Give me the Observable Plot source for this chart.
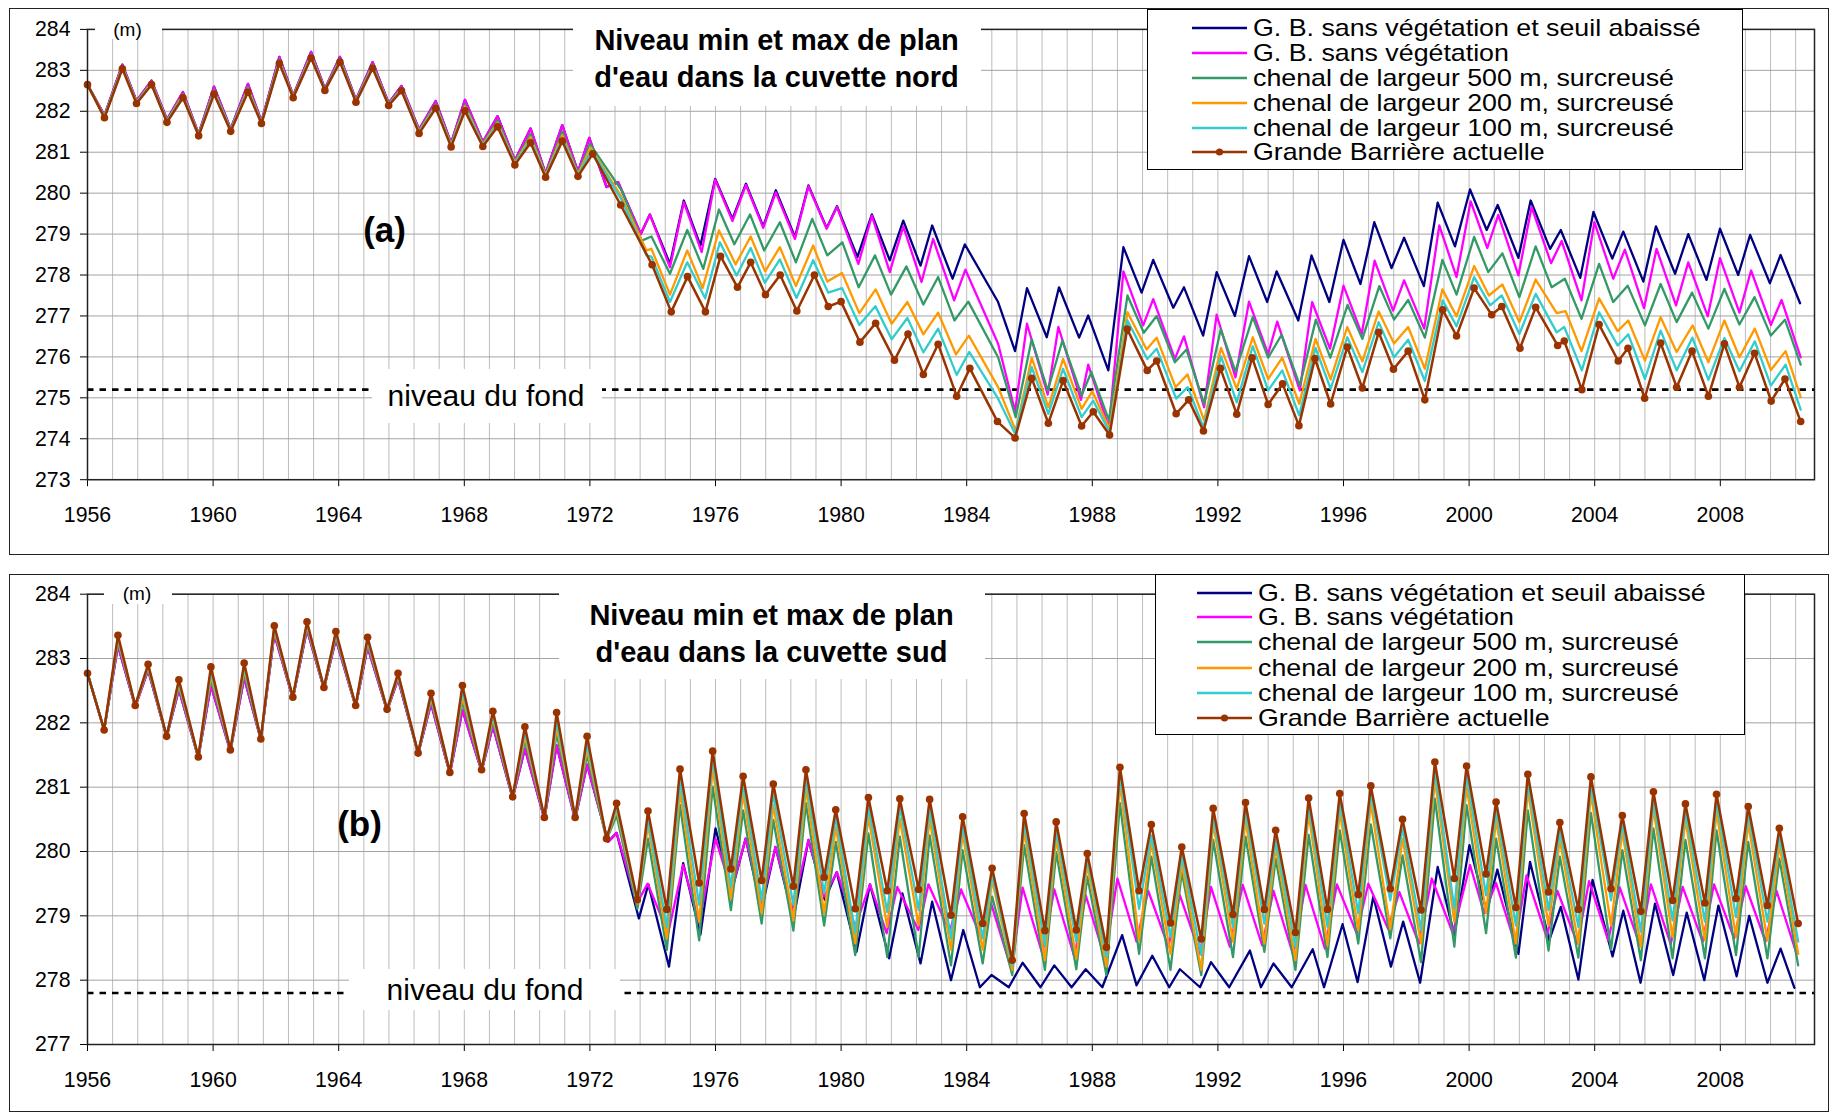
<!DOCTYPE html>
<html><head><meta charset="utf-8">
<script src="https://cdn.jsdelivr.net/npm/d3@7"></script>
<script src="https://cdn.jsdelivr.net/npm/@observablehq/plot@0.6"></script>
<style>
body{margin:0;background:#fff;font-family:"Liberation Sans",Arial,sans-serif;}
#page{position:relative;width:1838px;height:1113px;overflow:hidden;background:#fff;}
.txt{position:absolute;white-space:nowrap;line-height:1;color:#000;font-family:"Liberation Sans",Arial,sans-serif;}
svg text{font-family:"Liberation Sans",Arial,sans-serif;}
</style></head><body><div id="page"></div>
<script>
// ---------- libellés ----------
const nomsSeries = ["G. B. sans végétation et seuil abaissé", "G. B. sans végétation",
  "chenal de largeur 500 m, surcreusé", "chenal de largeur 200 m, surcreusé",
  "chenal de largeur 100 m, surcreusé", "Grande Barrière actuelle"];
const titreNord = ["Niveau min et max de plan", "d'eau dans la cuvette nord"];
const titreSud = ["Niveau min et max de plan", "d'eau dans la cuvette sud"];
const anneesTicks = [1956, 1960, 1964, 1968, 1972, 1976, 1980, 1984, 1988, 1992, 1996, 2000, 2004, 2008];
const niveauxNord = [273, 274, 275, 276, 277, 278, 279, 280, 281, 282, 283, 284];
const niveauxSud = [277, 278, 279, 280, 281, 282, 283, 284];
const fondNord = 275.2;
const fondSud = 277.8;

// ---------- cuvette nord (a) ----------
const tAvantNord = [1956.0, 1956.54, 1957.11, 1957.56, 1958.04, 1958.53, 1959.04, 1959.54, 1960.03, 1960.56, 1961.11, 1961.54, 1962.11, 1962.55, 1963.12, 1963.56, 1964.04, 1964.55, 1965.08, 1965.59, 1966.0, 1966.56, 1967.09, 1967.58, 1968.02, 1968.59, 1969.06, 1969.61, 1970.11, 1970.59, 1971.12, 1971.62];

const nordTempsBleu = tAvantNord.concat([1971.98, 1972.53, 1972.90, 1973.62, 1973.91, 1974.55, 1974.99, 1975.52, 1975.99, 1976.54, 1976.97, 1977.52, 1977.92, 1978.53, 1978.96, 1979.54, 1979.87, 1980.52, 1980.98, 1981.55, 1981.98, 1982.53, 1982.90, 1983.55, 1983.94, 1985.0, 1985.54, 1985.92, 1986.55, 1986.94, 1987.58, 1987.87, 1988.51, 1988.99, 1989.57, 1989.94, 1990.58, 1990.92, 1991.53, 1991.96, 1992.54, 1992.99, 1993.57, 1993.87, 1994.56, 1994.98, 1995.55, 1996.0, 1996.54, 1996.98, 1997.53, 1997.93, 1998.56, 1999.0, 1999.55, 2000.03, 2000.56, 2000.91, 2001.57, 2001.96, 2002.58, 2002.92, 2003.54, 2003.96, 2004.56, 2004.91, 2005.55, 2005.95, 2006.56, 2006.98, 2007.56, 2007.99, 2008.57, 2008.95, 2009.58, 2009.92, 2010.54]);
const nordBleu = [282.65, 281.90, 283.14, 282.25, 282.75, 281.80, 282.47, 281.45, 282.60, 281.57, 282.67, 281.75, 283.33, 282.38, 283.45, 282.55, 283.33, 282.28, 283.20, 282.20, 282.62, 281.55, 282.25, 281.22, 282.28, 281.25, 281.88, 280.80, 281.58, 280.48, 281.66, 280.52,
  281.35, 280.15, 280.27, 279.0, 279.48, 278.27, 279.82, 278.72, 280.35, 279.37, 280.23, 279.19, 280.07, 278.93, 280.19, 279.15, 279.68, 278.44, 279.48, 278.36, 279.33, 278.23, 279.21, 277.91, 278.75, 277.34, 276.14, 277.68, 276.48, 277.70, 276.47, 277.01, 275.67, 278.68, 277.57, 278.37, 277.20, 277.70, 276.52, 278.07, 277.0, 278.46, 277.34, 278.09, 276.89, 278.48, 277.34, 278.86, 277.78, 279.29, 278.17, 278.91, 277.73, 279.77, 278.70, 280.09, 279.10, 279.71, 278.42, 279.82, 278.64, 279.10, 277.93, 279.54, 278.40, 279.06, 277.84, 279.19, 278.03, 279.0, 277.88, 279.13, 278.0, 278.98, 277.80, 278.49, 277.31];

const nordTempsMagenta = tAvantNord.concat([1971.98, 1972.53, 1972.90, 1973.62, 1973.91, 1974.55, 1974.99, 1975.56, 1975.99, 1976.54, 1976.97, 1977.52, 1977.92, 1978.53, 1978.96, 1979.54, 1979.87, 1980.55, 1980.98, 1981.55, 1981.98, 1982.56, 1982.93, 1983.60, 1983.96, 1985.0, 1985.54, 1985.92, 1986.58, 1986.92, 1987.64, 1987.87, 1988.53, 1988.99, 1989.62, 1989.94, 1990.63, 1990.92, 1991.56, 1991.96, 1992.56, 1992.99, 1993.60, 1993.89, 1994.61, 1995.0, 1995.57, 1996.0, 1996.58, 1996.99, 1997.58, 1997.93, 1998.57, 1999.05, 1999.60, 2000.05, 2000.58, 2000.93, 2001.57, 2001.99, 2002.61, 2002.95, 2003.58, 2003.99, 2004.59, 2004.96, 2005.57, 2005.97, 2006.59, 2006.98, 2007.60, 2007.99, 2008.61, 2008.98, 2009.61, 2009.95, 2010.56]);
const nordMagenta = [282.65, 281.90, 283.14, 282.25, 282.75, 281.80, 282.47, 281.45, 282.60, 281.57, 282.67, 281.75, 283.33, 282.38, 283.45, 282.55, 283.33, 282.28, 283.20, 282.20, 282.62, 281.55, 282.25, 281.22, 282.28, 281.25, 281.88, 280.80, 281.58, 280.48, 281.66, 280.52,
  281.35, 280.15, 280.27, 279.0, 279.48, 278.19, 279.78, 278.56, 280.33, 279.32, 280.20, 279.15, 280.02, 278.88, 280.17, 279.13, 279.66, 278.27, 279.45, 278.07, 279.19, 277.83, 278.88, 277.38, 278.13, 276.32, 274.67, 276.81, 275.08, 276.73, 274.95, 275.81, 274.27, 278.09, 276.77, 277.41, 275.95, 276.50, 274.77, 277.03, 275.50, 277.35, 276.07, 276.86, 275.18, 277.34, 276.20, 277.74, 276.56, 278.35, 277.13, 277.87, 276.69, 279.21, 277.95, 279.80, 278.66, 279.47, 277.99, 279.66, 278.29, 278.83, 277.38, 279.29, 277.91, 278.62, 277.19, 278.64, 277.26, 278.31, 276.99, 278.41, 277.08, 278.11, 276.78, 277.39, 275.99];

const nordTempsVert = tAvantNord.concat([1972.0, 1973.01, 1973.65, 1973.96, 1974.55, 1975.10, 1975.61, 1976.11, 1976.60, 1977.10, 1977.55, 1978.05, 1978.56, 1979.08, 1979.56, 1980.04, 1980.56, 1981.08, 1981.59, 1982.08, 1982.62, 1983.09, 1983.61, 1984.05, 1985.0, 1985.56, 1986.07, 1986.58, 1987.05, 1987.66, 1987.97, 1988.53, 1989.12, 1989.64, 1990.05, 1990.63, 1991.0, 1991.56, 1992.09, 1992.56, 1993.11, 1993.60, 1994.03, 1994.61, 1995.12, 1995.58, 1996.13, 1996.60, 1997.14, 1997.61, 1998.06, 1998.59, 1999.15, 1999.60, 2000.16, 2000.61, 2001.06, 2001.60, 2002.12, 2002.63, 2003.05, 2003.58, 2004.14, 2004.59, 2005.05, 2005.60, 2006.10, 2006.61, 2007.10, 2007.62, 2008.13, 2008.61, 2009.09, 2009.61, 2010.06, 2010.56]);
const nordVert = [282.65, 281.88, 283.10, 282.23, 282.71, 281.77, 282.42, 281.43, 282.53, 281.55, 282.59, 281.73, 283.27, 282.36, 283.39, 282.53, 283.28, 282.26, 283.14, 282.18, 282.57, 281.52, 282.18, 281.19, 282.17, 281.21, 281.78, 280.76, 281.44, 280.45, 281.50, 280.47,
  281.2, 280.07, 278.84, 278.94, 278.03, 279.10, 278.15, 279.60, 278.75, 279.48, 278.60, 279.29, 278.31, 279.37, 278.48, 278.80, 277.70, 278.48, 277.52, 278.21, 277.28, 277.95, 276.89, 277.35, 275.99, 274.53, 276.43, 275.18, 276.40, 275.06, 275.63, 274.45, 277.50, 276.59, 277.0, 275.87, 276.18, 274.85, 276.67, 275.64, 276.97, 275.98, 276.54, 275.30, 276.91, 275.98, 277.27, 276.44, 277.73, 276.91, 277.39, 276.47, 278.37, 277.52, 278.93, 278.07, 278.53, 277.46, 278.70, 277.70, 277.91, 276.93, 278.27, 277.34, 277.74, 276.77, 277.78, 276.85, 277.57, 276.69, 277.66, 276.79, 277.46, 276.52, 276.91, 275.81];

const nordTempsOrange = tAvantNord.concat([1972.02, 1973.0, 1973.80, 1973.96, 1974.55, 1975.10, 1975.59, 1976.11, 1976.64, 1977.12, 1977.58, 1978.05, 1978.56, 1979.11, 1979.56, 1980.03, 1980.58, 1981.10, 1981.61, 1982.11, 1982.62, 1983.09, 1983.66, 1984.07, 1985.0, 1985.56, 1986.07, 1986.60, 1987.07, 1987.66, 1988.0, 1988.55, 1989.12, 1989.73, 1990.05, 1990.65, 1991.03, 1991.56, 1992.10, 1992.60, 1993.11, 1993.60, 1994.05, 1994.59, 1995.11, 1995.59, 1996.12, 1996.60, 1997.12, 1997.61, 1998.06, 1998.59, 1999.15, 1999.60, 2000.16, 2000.63, 2001.06, 2001.60, 2002.12, 2002.79, 2003.07, 2003.58, 2004.14, 2004.73, 2005.07, 2005.60, 2006.10, 2006.61, 2007.12, 2007.62, 2008.13, 2008.61, 2009.10, 2009.61, 2010.08, 2010.56]);
const nordOrange = [282.65, 281.87, 283.08, 282.22, 282.69, 281.76, 282.39, 281.42, 282.49, 281.54, 282.55, 281.72, 283.23, 282.35, 283.36, 282.52, 283.25, 282.24, 283.11, 282.16, 282.55, 281.50, 282.14, 281.17, 282.12, 281.19, 281.72, 280.74, 281.37, 280.43, 281.42, 280.45,
  281.12, 279.92, 278.60, 278.64, 277.52, 278.60, 277.68, 279.09, 278.26, 278.94, 278.09, 278.68, 277.73, 278.72, 277.84, 278.05, 277.07, 277.65, 276.81, 277.34, 276.55, 277.08, 276.06, 276.52, 275.26, 274.20, 275.98, 274.77, 275.95, 274.73, 275.16, 274.24, 277.09, 276.18, 276.47, 275.26, 275.57, 274.45, 276.22, 275.22, 276.48, 275.46, 275.98, 274.85, 276.44, 275.45, 276.73, 275.89, 277.11, 276.33, 276.73, 275.71, 277.65, 276.99, 278.22, 277.50, 277.77, 276.85, 277.89, 277.07, 277.12, 276.14, 277.43, 276.63, 276.89, 275.91, 276.97, 276.12, 276.77, 275.87, 276.89, 275.99, 276.69, 275.68, 276.14, 275.02];

const nordTempsCyan = tAvantNord.concat([1972.05, 1973.0, 1973.80, 1973.96, 1974.55, 1975.10, 1975.67, 1976.14, 1976.67, 1977.12, 1977.57, 1978.05, 1978.58, 1979.11, 1979.59, 1980.03, 1980.58, 1981.09, 1981.61, 1982.11, 1982.62, 1983.09, 1983.68, 1984.08, 1985.0, 1985.54, 1986.07, 1986.60, 1987.07, 1987.66, 1988.03, 1988.55, 1989.12, 1989.75, 1990.05, 1990.67, 1991.04, 1991.54, 1992.10, 1992.60, 1993.11, 1993.60, 1994.05, 1994.59, 1995.11, 1995.59, 1996.12, 1996.60, 1997.12, 1997.61, 1998.06, 1998.59, 1999.16, 1999.60, 2000.16, 2000.67, 2001.04, 2001.60, 2002.12, 2002.79, 2003.03, 2003.59, 2004.14, 2004.73, 2005.07, 2005.60, 2006.10, 2006.61, 2007.11, 2007.62, 2008.13, 2008.61, 2009.10, 2009.61, 2010.08, 2010.56]);
const nordCyan = [282.65, 281.86, 283.06, 282.21, 282.67, 281.75, 282.36, 281.41, 282.46, 281.53, 282.51, 281.71, 283.20, 282.34, 283.33, 282.52, 283.23, 282.23, 283.08, 282.15, 282.53, 281.48, 282.11, 281.15, 282.07, 281.17, 281.67, 280.72, 281.30, 280.41, 281.35, 280.43,
  281.05, 279.85, 278.48, 278.45, 277.34, 278.31, 277.43, 278.80, 277.99, 278.66, 277.81, 278.38, 277.44, 278.36, 277.57, 277.68, 276.78, 277.24, 276.43, 276.95, 276.11, 276.69, 275.56, 276.12, 274.98, 274.12, 275.75, 274.61, 275.71, 274.53, 274.93, 274.16, 276.89, 275.95, 276.20, 274.98, 275.26, 274.28, 276.01, 274.89, 276.26, 275.18, 275.67, 274.57, 276.22, 275.22, 276.48, 275.63, 276.85, 275.99, 276.42, 275.41, 277.38, 276.75, 277.95, 277.26, 277.50, 276.56, 277.54, 276.60, 276.73, 275.67, 277.09, 276.28, 276.55, 275.46, 276.64, 275.67, 276.47, 275.44, 276.46, 275.65, 276.38, 275.30, 275.81, 274.71];

const nordTempsBrun = tAvantNord.concat([1972.09, 1972.98, 1973.98, 1974.59, 1975.11, 1975.68, 1976.16, 1976.70, 1977.12, 1977.59, 1978.06, 1978.59, 1979.15, 1979.59, 1980.0, 1980.60, 1981.10, 1981.70, 1982.13, 1982.62, 1983.09, 1983.68, 1984.10, 1984.98, 1985.54, 1986.07, 1986.60, 1987.07, 1987.66, 1988.03, 1988.55, 1989.11, 1989.75, 1990.05, 1990.67, 1991.07, 1991.54, 1992.08, 1992.60, 1993.09, 1993.60, 1994.06, 1994.58, 1995.09, 1995.59, 1996.12, 1996.60, 1997.12, 1997.59, 1998.06, 1998.59, 1999.16, 1999.60, 2000.16, 2000.72, 2001.04, 2001.62, 2002.12, 2002.82, 2003.03, 2003.59, 2004.14, 2004.75, 2005.06, 2005.59, 2006.10, 2006.61, 2007.10, 2007.62, 2008.13, 2008.61, 2009.09, 2009.62, 2010.06, 2010.56]);
const nordBrun = [282.65, 281.84, 283.04, 282.19, 282.65, 281.73, 282.33, 281.40, 282.42, 281.51, 282.47, 281.70, 283.17, 282.33, 283.30, 282.51, 283.20, 282.22, 283.05, 282.14, 282.50, 281.46, 282.07, 281.13, 282.01, 281.14, 281.62, 280.69, 281.23, 280.39, 281.27, 280.41,
  280.96, 279.71, 278.25, 277.10, 277.96, 277.10, 278.46, 277.70, 278.31, 277.52, 278.00, 277.12, 278.00, 277.23, 277.35, 276.36, 276.82, 275.92, 276.56, 275.57, 276.31, 275.04, 275.72, 274.42, 274.02, 275.48, 274.38, 275.42, 274.31, 274.66, 274.09, 276.68, 275.67, 275.90, 274.61, 274.95, 274.19, 275.72, 274.60, 275.98, 274.84, 275.34, 274.32, 275.96, 274.85, 276.24, 275.24, 276.60, 275.70, 276.14, 274.95, 277.15, 276.51, 277.68, 277.03, 277.23, 276.21, 277.21, 276.28, 276.39, 275.20, 276.79, 275.90, 276.21, 274.99, 276.34, 275.26, 276.14, 275.04, 276.32, 275.26, 276.09, 274.92, 275.46, 274.42];

// ---------- cuvette sud (b) ----------
const tAvantSud = [1956.0, 1956.53, 1956.97, 1957.52, 1957.93, 1958.52, 1958.91, 1959.53, 1959.93, 1960.55, 1960.99, 1961.52, 1961.95, 1962.54, 1962.99, 1963.53, 1963.91, 1964.54, 1964.92, 1965.54, 1965.89, 1966.53, 1966.94, 1967.54, 1967.94, 1968.55, 1968.91, 1969.54, 1969.93, 1970.55, 1970.94, 1971.53, 1971.91];
const tApresSud = [1972.53, 1972.85, 1973.51, 1973.85, 1974.45, 1974.87, 1975.48, 1975.91, 1976.49, 1976.88, 1977.47, 1977.84, 1978.48, 1978.88, 1979.46, 1979.83, 1980.45, 1980.87, 1981.47, 1981.87, 1982.47, 1982.82, 1983.50, 1983.87, 1984.51, 1984.81, 1985.45, 1985.83, 1986.49, 1986.85, 1987.49, 1987.84, 1988.45, 1988.88, 1989.49, 1989.88, 1990.49, 1990.85, 1991.47, 1991.85, 1992.48, 1992.88, 1993.48, 1993.84, 1994.47, 1994.89, 1995.49, 1995.88, 1996.47, 1996.87, 1997.49, 1997.88, 1998.47, 1998.91, 1999.53, 1999.92, 2000.54, 2000.86, 2001.49, 2001.87, 2002.53, 2002.89, 2003.48, 2003.88, 2004.52, 2004.88, 2005.47, 2005.87, 2006.48, 2006.89, 2007.51, 2007.88, 2008.50, 2008.89, 2009.50, 2009.88, 2010.48];
const sudTempsCommun = tAvantSud.concat(tApresSud);

const sudTempsBleu = tAvantSud.concat([1972.58, 1972.85, 1973.56, 1973.86, 1974.52, 1974.97, 1975.52, 1976.0, 1976.51, 1976.96, 1977.47, 1977.91, 1978.48, 1978.96, 1979.48, 1979.86, 1980.49, 1980.92, 1981.53, 1981.95, 1982.53, 1982.90, 1983.50, 1983.89, 1984.42, 1984.79, 1985.34, 1985.78, 1986.35, 1986.79, 1987.34, 1987.79, 1988.32, 1988.95, 1989.41, 1989.91, 1990.45, 1990.79, 1991.43, 1991.78, 1992.36, 1993.02, 1993.37, 1993.77, 1994.35, 1995.02, 1995.38, 1995.97, 1996.45, 1996.95, 1997.51, 1997.90, 1998.44, 1999.0, 1999.53, 2000.01, 2000.56, 2000.90, 2001.57, 2001.94, 2002.55, 2002.92, 2003.48, 2003.93, 2004.57, 2004.91, 2005.46, 2005.92, 2006.50, 2006.93, 2007.49, 2007.94, 2008.52, 2008.92, 2009.50, 2009.92, 2010.36]);
const sudBleu = [282.77, 281.89, 283.20, 282.25, 282.82, 281.78, 282.52, 281.46, 282.58, 281.56, 282.70, 281.74, 283.38, 282.38, 283.45, 282.53, 283.30, 282.25, 283.18, 282.19, 282.68, 281.52, 282.30, 281.21, 282.20, 281.25, 281.95, 280.83, 281.60, 280.51, 281.65, 280.50, 281.35,
  280.15, 280.29, 278.96, 279.49, 278.21, 279.82, 278.71, 280.36, 279.37, 280.20, 279.10, 280.07, 278.95, 280.18, 279.25, 279.68, 278.44, 279.49, 278.34, 279.35, 278.26, 279.22, 278.00, 278.78, 277.89, 278.08, 277.89, 278.27, 277.89, 278.23, 277.89, 278.17, 277.89, 278.70, 277.92, 278.38, 277.89, 278.17, 277.89, 278.28, 277.89, 278.46, 277.89, 278.26, 277.89, 278.48, 277.89, 278.87, 277.97, 279.30, 278.21, 278.91, 277.96, 279.76, 278.70, 280.10, 279.06, 279.72, 278.41, 279.84, 278.62, 279.14, 278.01, 279.56, 278.37, 279.08, 277.96, 279.19, 278.08, 279.05, 278.00, 279.16, 278.06, 279.00, 277.96, 278.49, 277.88];

const sudTempsMagenta = tAvantSud.concat([1972.58, 1972.85, 1973.50, 1973.84, 1974.49, 1974.97, 1975.48, 1976.0, 1976.51, 1976.96, 1977.47, 1977.91, 1978.44, 1978.96, 1979.46, 1979.87, 1980.45, 1980.92, 1981.45, 1981.79, 1982.46, 1982.78, 1983.46, 1983.82, 1984.47, 1984.79, 1985.43, 1985.78, 1986.41, 1986.79, 1987.43, 1987.79, 1988.40, 1988.80, 1989.41, 1989.78, 1990.42, 1990.79, 1991.43, 1991.78, 1992.38, 1992.79, 1993.41, 1993.77, 1994.40, 1994.79, 1995.41, 1995.79, 1996.42, 1996.79, 1997.42, 1997.78, 1998.40, 1998.81, 1999.48, 2000.03, 2000.48, 2000.86, 2001.46, 2001.83, 2002.47, 2002.81, 2003.45, 2003.82, 2004.43, 2004.80, 2005.44, 2005.79, 2006.42, 2006.80, 2007.44, 2007.80, 2008.44, 2008.81, 2009.44, 2009.79, 2010.43]);
const sudMagenta = [282.77, 281.89, 283.20, 282.25, 282.82, 281.78, 282.52, 281.46, 282.58, 281.56, 282.70, 281.74, 283.38, 282.38, 283.45, 282.53, 283.30, 282.25, 283.18, 282.19, 282.68, 281.52, 282.30, 281.21, 282.20, 281.25, 281.95, 280.83, 281.60, 280.51, 281.65, 280.50, 281.35,
  280.15, 280.29, 279.20, 279.50, 278.73, 279.79, 278.89, 280.20, 279.40, 280.20, 279.19, 280.07, 279.09, 280.18, 279.30, 279.68, 278.83, 279.49, 278.73, 279.45, 278.78, 279.49, 278.75, 279.41, 278.65, 279.17, 278.16, 279.44, 278.41, 279.41, 278.36, 279.32, 278.34, 279.58, 278.60, 279.39, 278.52, 279.32, 278.41, 279.45, 278.52, 279.48, 278.54, 279.39, 278.39, 279.48, 278.49, 279.49, 278.73, 279.50, 278.80, 279.37, 278.57, 279.58, 278.73, 279.79, 279.04, 279.51, 278.57, 279.63, 278.67, 279.39, 278.57, 279.54, 278.62, 279.44, 278.54, 279.49, 278.56, 279.45, 278.60, 279.49, 278.65, 279.46, 278.60, 279.39, 278.41];

const sudVert = [282.77, 281.89, 283.26, 282.26, 282.85, 281.78, 282.57, 281.46, 282.68, 281.57, 282.78, 281.74, 283.43, 282.39, 283.49, 282.54, 283.34, 282.26, 283.23, 282.20, 282.71, 281.52, 282.36, 281.22, 282.33, 281.26, 282.03, 280.84, 281.72, 280.52, 281.83, 280.51, 281.50,
  280.18, 280.56, 279.11, 280.20, 278.47, 280.72, 278.62, 281.01, 279.09, 280.64, 278.88, 280.49, 278.77, 280.75, 278.85, 280.15, 278.39, 280.28, 278.36, 280.23, 278.36, 280.25, 278.23, 280.02, 278.26, 279.30, 278.08, 280.10, 278.16, 279.99, 278.17, 279.61, 278.08, 280.75, 278.41, 279.92, 278.16, 279.68, 278.08, 280.18, 278.36, 280.23, 278.44, 279.89, 278.16, 280.26, 278.36, 280.33, 278.57, 280.42, 278.65, 279.94, 278.28, 280.82, 278.52, 280.72, 278.73, 280.20, 278.35, 280.64, 278.46, 279.92, 278.35, 280.60, 278.47, 280.02, 278.31, 280.36, 278.34, 280.18, 278.34, 280.33, 278.39, 280.15, 278.34, 279.89, 278.23];

const sudOrange = [282.77, 281.89, 283.29, 282.26, 282.87, 281.79, 282.60, 281.47, 282.74, 281.57, 282.83, 281.75, 283.45, 282.39, 283.52, 282.54, 283.37, 282.26, 283.26, 282.20, 282.73, 281.53, 282.39, 281.22, 282.41, 281.26, 282.08, 280.84, 281.79, 280.52, 281.93, 280.52, 281.59,
  280.19, 280.64, 279.19, 280.41, 278.65, 280.93, 278.91, 281.29, 279.27, 280.90, 279.04, 280.72, 278.93, 280.98, 279.04, 280.38, 278.57, 280.54, 278.83, 280.51, 278.85, 280.51, 278.47, 280.28, 278.47, 279.55, 278.16, 280.33, 278.31, 280.20, 278.34, 279.79, 278.21, 281.06, 278.62, 280.15, 278.41, 279.81, 278.16, 280.44, 278.60, 280.49, 278.57, 280.07, 278.31, 280.59, 278.54, 280.62, 278.78, 280.75, 278.80, 280.20, 278.57, 281.11, 278.91, 281.01, 279.04, 280.49, 278.57, 280.95, 278.85, 280.18, 278.57, 280.90, 278.85, 280.31, 278.52, 280.67, 278.67, 280.49, 278.62, 280.62, 278.67, 280.44, 278.62, 280.10, 278.41];

const sudCyan = [282.77, 281.89, 283.32, 282.27, 282.89, 281.79, 282.63, 281.47, 282.80, 281.58, 282.87, 281.75, 283.48, 282.40, 283.54, 282.55, 283.39, 282.27, 283.29, 282.21, 282.75, 281.53, 282.42, 281.23, 282.49, 281.27, 282.12, 280.85, 281.86, 280.53, 282.03, 280.53, 281.68,
  280.19, 280.69, 279.22, 280.51, 278.83, 281.11, 279.17, 281.45, 279.45, 281.06, 279.24, 280.90, 279.17, 281.13, 279.35, 280.54, 278.73, 280.69, 279.06, 280.69, 279.09, 280.67, 278.65, 280.41, 278.65, 279.63, 278.23, 280.46, 278.54, 280.33, 278.60, 279.89, 278.36, 281.19, 279.11, 280.25, 278.67, 279.94, 278.39, 280.56, 278.83, 280.64, 278.88, 280.18, 278.52, 280.72, 278.83, 280.77, 279.04, 280.90, 279.24, 280.36, 278.78, 281.26, 279.11, 281.19, 279.32, 280.64, 278.85, 281.08, 279.09, 280.32, 278.83, 281.03, 279.24, 280.44, 278.75, 280.80, 278.93, 280.62, 278.91, 280.77, 278.98, 280.59, 278.91, 280.25, 278.60];

const sudBrun = [282.77, 281.89, 283.36, 282.27, 282.91, 281.79, 282.67, 281.47, 282.87, 281.58, 282.93, 281.75, 283.51, 282.40, 283.57, 282.55, 283.42, 282.27, 283.33, 282.21, 282.77, 281.53, 282.46, 281.23, 282.58, 281.27, 282.18, 280.85, 281.94, 280.53, 282.16, 280.53, 281.79,
  280.20, 280.75, 279.25, 280.63, 279.10, 281.28, 279.51, 281.56, 279.73, 281.17, 279.55, 281.05, 279.46, 281.27, 279.60, 280.65, 279.11, 280.84, 279.39, 280.82, 279.41, 280.81, 279.01, 280.54, 278.88, 279.74, 278.31, 280.59, 278.77, 280.46, 278.78, 279.97, 278.51, 281.31, 279.39, 280.42, 278.89, 280.07, 278.64, 280.67, 279.02, 280.76, 279.10, 280.33, 278.74, 280.83, 279.10, 280.90, 279.33, 281.02, 279.42, 280.50, 279.09, 281.39, 279.58, 281.33, 279.65, 280.77, 279.13, 281.20, 279.37, 280.45, 279.10, 281.16, 279.42, 280.56, 279.07, 280.93, 279.24, 280.74, 279.20, 280.89, 279.27, 280.70, 279.16, 280.36, 278.88];

// ---------- style (hors données) ----------
const couleurs = ["#000080", "#ff00ff", "#339966", "#ff9900", "#33cccc", "#993300"];
const epaisseurs = [2.3, 2.3, 2.3, 2.3, 2.3, 2.5];

function serie(temps, valeurs, nom) {
  if (temps.length !== valeurs.length) throw new Error("longueur " + nom + " " + temps.length + " vs " + valeurs.length);
  return temps.map((t, i) => ({t, v: valeurs[i], serie: nom}));
}

const seriesNord = [
  serie(nordTempsBleu, nordBleu, nomsSeries[0]),
  serie(nordTempsMagenta, nordMagenta, nomsSeries[1]),
  serie(nordTempsVert, nordVert, nomsSeries[2]),
  serie(nordTempsOrange, nordOrange, nomsSeries[3]),
  serie(nordTempsCyan, nordCyan, nomsSeries[4]),
  serie(nordTempsBrun, nordBrun, nomsSeries[5])
];
const seriesSud = [
  serie(sudTempsBleu, sudBleu, nomsSeries[0]),
  serie(sudTempsMagenta, sudMagenta, nomsSeries[1]),
  serie(sudTempsCommun, sudVert, nomsSeries[2]),
  serie(sudTempsCommun, sudOrange, nomsSeries[3]),
  serie(sudTempsCommun, sudCyan, nomsSeries[4]),
  serie(sudTempsCommun, sudBrun, nomsSeries[5])
];

const grilleX = d3.range(0, 69).map(i => 1956 + i * 0.8);

function graphique(series, niveaux, fond, hauteur, mt, mb) {
  const marks = [
    Plot.ruleX(grilleX, {stroke: "#bcbcbc", strokeWidth: 1}),
    Plot.ruleY(niveaux, {stroke: "#a3a3a3", strokeWidth: 1}),
    Plot.ruleY([fond], {stroke: "#000", strokeWidth: 2.6, strokeDasharray: "6.5,6"})
  ];
  series.forEach((s, i) => marks.push(Plot.line(s, {x: "t", y: "v", stroke: couleurs[i], strokeWidth: epaisseurs[i], strokeLinejoin: "round"})));
  marks.push(Plot.dot(series[5], {x: "t", y: "v", r: 3.8, fill: couleurs[5], stroke: "none"}));
  marks.push(Plot.frame({stroke: "#222", strokeWidth: 1.5}));
  return Plot.plot({
    width: 1838, height: hauteur,
    marginLeft: 87, marginRight: 24, marginTop: mt, marginBottom: mb,
    x: {domain: [1956, 2011], ticks: anneesTicks, tickFormat: d => String(d), tickSize: 7, tickPadding: 20, label: null},
    y: {domain: [niveaux[0], niveaux[niveaux.length - 1]], ticks: niveaux, tickFormat: d => String(d), tickSize: 7, tickPadding: 10, label: null},
    style: {fontSize: "21.3px", fontFamily: "Liberation Sans, Arial, sans-serif", background: "transparent", color: "#000", overflow: "visible"},
    marks
  });
}

const page = document.getElementById("page");
function ajoute(el, css) { Object.assign(el.style, css); page.appendChild(el); return el; }
function boite(x, y, w, h, bord) {
  const d = document.createElement("div");
  return ajoute(d, {position: "absolute", left: x + "px", top: y + "px", width: w + "px", height: h + "px", background: "#fff", boxSizing: "border-box", border: bord ? "1.3px solid #000" : "none"});
}
function texte(str, x, y, taille, gras, ancre, etirement) {
  const d = document.createElement("div");
  d.className = "txt";
  d.textContent = str;
  const sx = etirement ? " scaleX(" + etirement + ")" : "";
  return ajoute(d, {left: x + "px", top: y + "px", fontSize: taille + "px", fontWeight: gras ? "bold" : "normal",
    transformOrigin: ancre === "start" ? "left center" : "center center",
    transform: (ancre === "start" ? "translate(0,-50%)" : "translate(-50%,-50%)") + sx});
}

function panneau(cfg) {
  const svg = graphique(cfg.series, cfg.niveaux, cfg.fond, cfg.hauteur, cfg.mt, cfg.mb);
  ajoute(svg, {position: "absolute", left: "0px", top: cfg.top + "px"});
  const c = document.createElement("div");
  ajoute(c, {position: "absolute", left: "9px", top: cfg.cadre[0] + "px", width: "1820px", height: cfg.cadre[1] + "px", border: "1.3px solid #222", boxSizing: "border-box"});
  boite(cfg.m[0], cfg.m[1], cfg.m[2], cfg.m[3], false);
  texte("(m)", cfg.m[4], cfg.m[5], 19, false);
  boite(cfg.titre[0], cfg.titre[1], cfg.titre[2], cfg.titre[3], false);
  texte(cfg.lignesTitre[0], cfg.titre[4], cfg.titre[5], 29, true);
  texte(cfg.lignesTitre[1], cfg.titre[4], cfg.titre[6], 29, true);
  texte(cfg.lettre[0], cfg.lettre[1], cfg.lettre[2], 35, true);
  boite(cfg.fondBoite[0], cfg.fondBoite[1], cfg.fondBoite[2], cfg.fondBoite[3], false);
  texte("niveau du fond", cfg.fondBoite[4], cfg.fondBoite[5], 30, false);
  const L = cfg.legende;
  boite(L.x, L.y, L.w, L.h, true);
  nomsSeries.forEach((nom, i) => {
    const y = L.rangs[i];
    const ns = "http://www.w3.org/2000/svg";
    const s = document.createElementNS(ns, "svg");
    s.setAttribute("width", L.x2 - L.x1); s.setAttribute("height", 12);
    const ln = document.createElementNS(ns, "line");
    ln.setAttribute("x1", 0); ln.setAttribute("x2", L.x2 - L.x1); ln.setAttribute("y1", 6); ln.setAttribute("y2", 6);
    ln.setAttribute("stroke", couleurs[i]); ln.setAttribute("stroke-width", epaisseurs[i] + 0.2);
    s.appendChild(ln);
    if (i === 5) {
      const ci = document.createElementNS(ns, "circle");
      ci.setAttribute("cx", (L.x2 - L.x1) / 2); ci.setAttribute("cy", 6); ci.setAttribute("r", 3.6); ci.setAttribute("fill", couleurs[i]);
      s.appendChild(ci);
    }
    ajoute(s, {position: "absolute", left: L.x1 + "px", top: (y - 6) + "px"});
    texte(nom, L.xt, y, 24, false, "start", 1.115);
  });
}

panneau({
  series: seriesNord, niveaux: niveauxNord, fond: fondNord,
  top: 0, hauteur: 552, mt: 28.9, mb: 72.8,
  cadre: [8, 547],
  m: [95, 9, 67, 30, 127.5, 28.5],
  titre: [573, 9, 408, 97, 776.5, 40, 77], lignesTitre: titreNord,
  lettre: ["(a)", 384.6, 229],
  fondBoite: [372, 369, 230, 54, 486, 396],
  legende: {x: 1147, y: 9, w: 596, h: 161, rangs: [28, 53, 78, 103, 127.6, 152], x1: 1192, x2: 1247, xt: 1253}
});
panneau({
  series: seriesSud, niveaux: niveauxSud, fond: fondSud,
  top: 572, hauteur: 541, mt: 21.7, mb: 69,
  cadre: [574, 538],
  m: [104, 575, 68, 29, 137, 593],
  titre: [559, 575, 426, 104, 771.5, 614.7, 652.4], lignesTitre: titreSud,
  lettre: ["(b)", 359.5, 823],
  fondBoite: [349, 969, 271, 41, 485, 990],
  legende: {x: 1155, y: 574, w: 590, h: 161, rangs: [592.5, 617, 642, 667.6, 693, 717.7], x1: 1197, x2: 1252, xt: 1258}
});
</script></body></html>
